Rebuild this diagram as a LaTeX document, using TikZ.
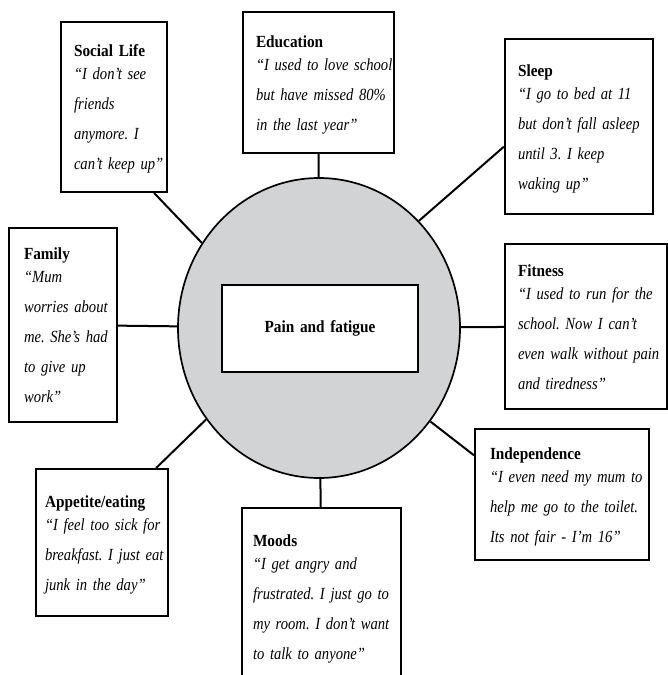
\documentclass[tikz,border=0pt]{standalone}
\usepackage{fontspec}
\setmainfont{Liberation Serif}[WordSpace=0.55,UprightFeatures={FakeStretch=0.9},BoldFeatures={FakeStretch=0.9},ItalicFeatures={FakeStretch=0.86}]
\usepackage{tikz}
\usetikzlibrary{shapes.geometric}
\definecolor{discgray}{HTML}{D1D3D4}
\pgfdeclarelayer{background}
\pgfsetlayers{background,main}

\begin{document}
\begin{tikzpicture}[x=1pt,y=-1pt]

    \tikzset{QB/.style={draw=black,line width=2pt,fill=white,inner xsep=12pt,inner ysep=0pt,align=left,font=\fontsize{17}{30}\selectfont\frenchspacing}}
    \tikzset{DS/.style={ellipse,draw=black,line width=1.7pt,fill=discgray,minimum width=282pt,minimum height=300pt,inner sep=0pt}}
    \tikzset{LK/.style={draw=black,line width=2pt}}

    \clip (0,0) rectangle (668,675);

    \node (pain) [DS] at (319,328) {};
    \node (core) [QB, align=center, text width=172pt, minimum height=87pt] at (320,328.5) {\bfseries Pain and fatigue};

    \node (social) [QB, inner xsep=13pt, text width=80pt, minimum height=170pt] at (114,107)
        {\begin{tabular}{@{}l@{}}\bfseries Social Life\\[-7pt]\itshape “I don’t see\\\itshape friends\\\itshape anymore. I\\\itshape can’t keep up”\end{tabular}};
    \node (edu) [QB, inner xsep=13pt, text width=125pt, minimum height=141pt] at (318.5,82.5)
        {\begin{tabular}{@{}l@{}}\bfseries Education\\[-7pt]\itshape “I used to love school\\\itshape but have missed 80\%\\\itshape in the last year”\end{tabular}};
    \node (sleep) [QB, inner xsep=13pt, text width=122pt, minimum height=175pt] at (579,126.5)
        {\begin{tabular}{@{}l@{}}\bfseries Sleep\\[-7pt]\itshape “I go to bed at 11\\\itshape but don’t fall asleep\\\itshape until 3. I keep\\\itshape waking up”\end{tabular}};
    \node (fit) [QB, inner xsep=13pt, text width=136pt, minimum height=165pt] at (586,326.5)
        {\begin{tabular}{@{}l@{}}\bfseries Fitness\\[-7pt]\itshape “I used to run for the\\\itshape school. Now I can’t\\\itshape even walk without pain\\\itshape and tiredness”\end{tabular}};
    \node (fam) [QB, inner xsep=15pt, text width=78pt, minimum height=194pt] at (63,325)
        {\begin{tabular}{@{}l@{}}\bfseries Family\\[-7pt]\itshape “Mum\\\itshape worries about\\\itshape me. She’s had\\\itshape to give up\\\itshape work”\end{tabular}};
    \node (indep) [QB, inner xsep=15pt, text width=144pt, minimum height=131pt] at (562,494.5)
        {\begin{tabular}{@{}l@{}}\bfseries Independence\\[-7pt]\itshape “I even need my mum to\\\itshape help me go to the toilet.\\\itshape Its not fair - I’m 16”\end{tabular}};
    \node (app) [QB, inner xsep=9pt, text width=114pt, minimum height=147pt] at (102,542.5)
        {\begin{tabular}{@{}l@{}}\bfseries Appetite/eating\\[-7pt]\itshape “I feel too sick for\\\itshape breakfast. I just eat\\\itshape junk in the day”\end{tabular}};
    \node (mood) [QB, inner xsep=11pt, text width=137pt, minimum height=178pt] at (321.5,597)
        {\begin{tabular}{@{}l@{}}\bfseries Moods\\[-7pt]\itshape “I get angry and\\\itshape frustrated. I just go to\\\itshape my room. I don’t want\\\itshape to talk to anyone”\end{tabular}};

    \begin{pgfonlayer}{background}
        \path[LK] (social.-65) -- (pain.144);
        \path[LK] (edu) -- (pain);
        \path[LK] (sleep.195) -- (pain.47);
        \path[LK] (pain) -- (fit);
        \path[LK] (fam) -- (pain);
        \path[LK] (indep.156) -- (pain.-40);
        \path[LK] (app.54) -- (pain.219);
        \path[LK] (pain) -- (mood);
    \end{pgfonlayer}
\end{tikzpicture}
\end{document}
